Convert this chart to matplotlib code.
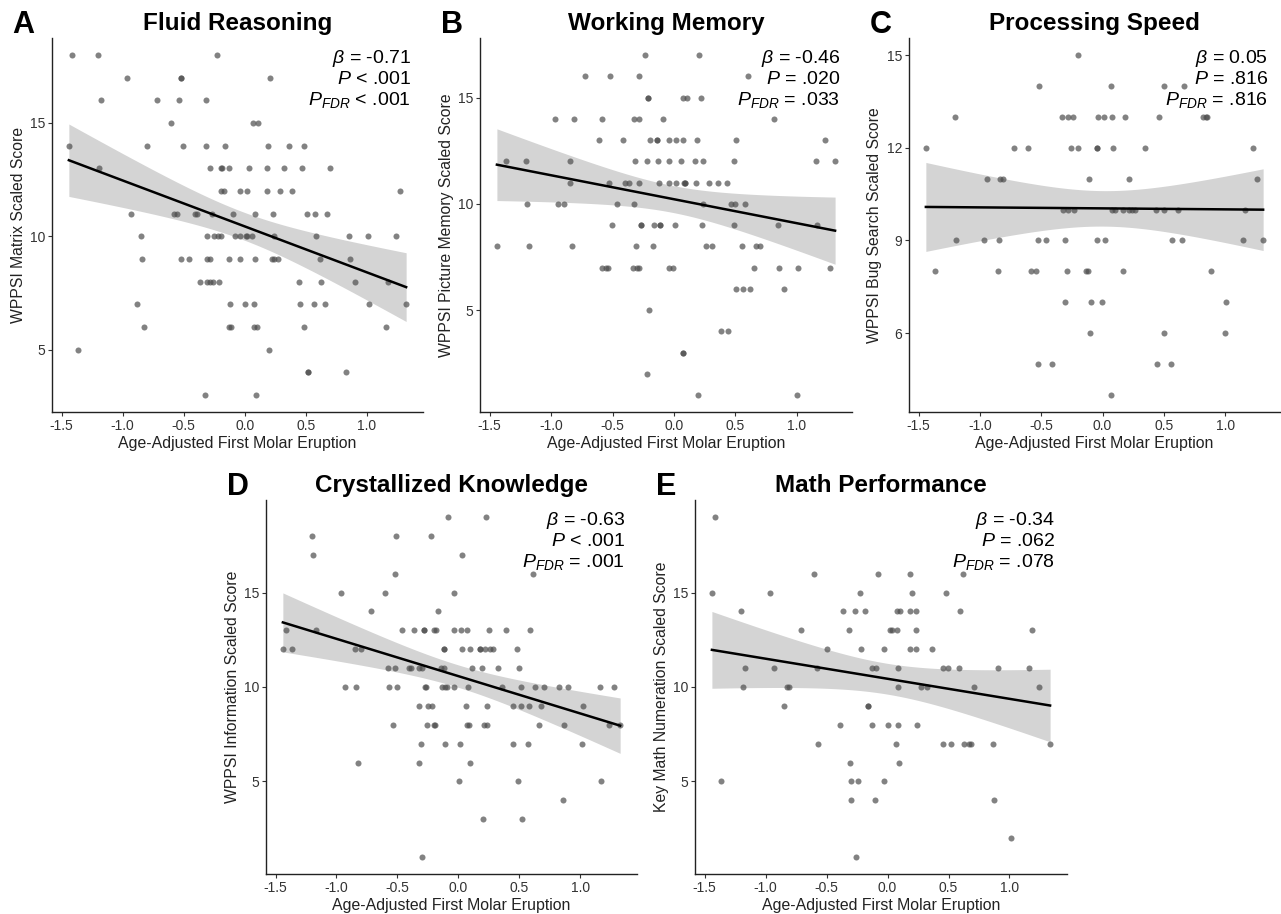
import numpy as np
import matplotlib
matplotlib.use('Agg')
import matplotlib.pyplot as plt
from matplotlib.ticker import FormatStrFormatter

plt.rcParams['font.family'] = ['Liberation Sans', 'DejaVu Sans']
plt.rcParams['axes.unicode_minus'] = False
plt.rcParams['mathtext.fontset'] = 'custom'
plt.rcParams['mathtext.rm'] = 'Liberation Sans'
plt.rcParams['mathtext.it'] = 'Liberation Sans:italic'

# dane: wynik -> lista x (wiek wyrzniecia zeba)
fluid_rows = {
    18: [-1.418, -1.20, -0.231],
    17: [-0.961, -0.525, -0.525, 0.205],
    16: [-1.173, -0.716, -0.541, -0.318],
    15: [-0.607, 0.069, 0.107],
    14: [-1.44, -0.803, -0.503, -0.318, -0.160, 0.194, 0.363, 0.488],
    13: [-1.19, -0.285, -0.198, -0.187, -0.127, 0.031, 0.178, 0.319, 0.472, 0.700],
    12: [-0.193, -0.166, -0.035, 0.020, 0.183, 0.286, 0.390, 1.272],
    11: [-0.934, -0.580, -0.558, -0.405, -0.394, -0.269, -0.100, 0.085, 0.232, 0.510, 0.575, 0.673],
    10: [-0.846, -0.313, -0.253, -0.220, -0.193, -0.084, -0.040, 0.009, 0.020, 0.063, 0.237, 0.581, 0.853, 1.011, 1.234],
    9: [-0.841, -0.525, -0.460, -0.307, -0.285, -0.127, -0.040, 0.085, 0.221, 0.243, 0.270, 0.613, 0.858],
    8: [-0.367, -0.307, -0.285, -0.264, -0.215, 0.444, 0.624, 0.902, 1.169],
    7: [-0.884, -0.117, 0.003, 0.079, 0.450, 0.564, 0.657, 1.016, 1.321],
    6: [-0.825, -0.133, -0.111, 0.079, 0.101, 0.488, 1.158],
    5: [-1.369, 0.199],
    4: [0.515, 0.515, 0.826],
    3: [-0.324, 0.090],
}

memory_rows = {
    17: [-0.234, 0.201],
    16: [-0.723, -0.522, -0.288, 0.603],
    15: [-0.212, -0.212, 0.071, 0.103, 0.217],
    14: [-0.967, -0.810, -0.587, -0.326, -0.288, -0.092, 0.815],
    13: [-0.609, -0.413, -0.196, -0.136, -0.136, -0.043, 0.016, 0.076, 0.185, 0.505, 1.228],
    12: [-1.370, -1.201, -0.848, -0.315, -0.223, -0.130, -0.043, 0.054, 0.168, 0.239, 0.484, 1.152, 1.310],
    11: [-0.842, -0.527, -0.402, -0.364, -0.288, -0.120, -0.043, 0.016, 0.082, 0.092, 0.092, 0.179, 0.283, 0.359, 0.435],
    10: [-1.196, -0.940, -0.891, -0.462, -0.326, 0.234, 0.467, 0.500, 0.576],
    9: [-0.505, -0.266, -0.266, -0.163, -0.114, -0.114, 0.011, 0.228, 0.484, 0.848, 1.163],
    8: [-1.440, -1.179, -0.826, -0.310, -0.168, 0.261, 0.310, 0.554, 0.663, 0.696],
    7: [-0.582, -0.549, -0.533, -0.337, -0.304, -0.283, -0.043, -0.005, 0.647, 0.853, 1.011, 1.266],
    6: [0.505, 0.565, 0.614, 0.891],
    5: [-0.201],
    4: [0.386, 0.440],
    3: [0.071, 0.071],
    2: [-0.223],
    1: [0.196, 1.000],
}

speed_rows = {
    15: [-0.198],
    14: [-0.518, 0.073, 0.501, 0.664],
    13: [-1.202, -0.334, -0.280, -0.242, -0.041, 0.013, 0.078, 0.181, 0.463, 0.816, 0.843, 0.854],
    12: [-1.440, -0.719, -0.611, -0.253, -0.204, -0.047, -0.047, 0.089, 0.349, 1.228],
    11: [-0.941, -0.833, -0.811, -0.112, 0.219, 1.260],
    10: [-0.323, -0.280, -0.231, 0.078, 0.100, 0.170, 0.214, 0.241, 0.262, 0.436, 0.501, 0.615, 1.163],
    9: [-1.191, -0.963, -0.844, -0.529, -0.464, -0.307, -0.047, 0.024, 0.566, 0.647, 1.146, 1.309],
    8: [-1.364, -0.849, -0.584, -0.546, -0.291, -0.133, -0.117, 0.170, 0.886],
    7: [-0.307, -0.095, -0.003, 1.005],
    6: [-0.106, 0.501, 1.000],
    5: [-0.529, -0.410, 0.441, 0.555],
    4: [0.073],
}

knowledge_rows = {
    19: [-0.086, 0.225],
    18: [-1.200, -0.512, -0.228],
    17: [-1.189, 0.034],
    16: [-0.523, 0.612],
    15: [-0.960, -0.605, -0.032],
    14: [-0.714, -0.163],
    13: [-1.418, -1.172, -0.463, -0.365, -0.283, -0.283, -0.201, -0.185, -0.032, 0.023, 0.072, 0.252, 0.394, 0.585],
    12: [-1.440, -1.369, -0.850, -0.801, -0.119, -0.119, 0.028, 0.099, 0.176, 0.176, 0.215, 0.258, 0.285, 0.481],
    11: [-0.578, -0.523, -0.408, -0.392, -0.321, -0.299, -0.146, -0.119, 0.116, 0.198, 0.323, 0.498],
    10: [-0.932, -0.840, -0.572, -0.501, -0.277, -0.266, -0.130, -0.113, -0.097, -0.032, 0.083, 0.361,
         0.514, 0.629, 0.705, 0.825, 0.902, 1.164, 1.278],
    9: [-0.321, -0.245, -0.217, 0.061, 0.236, 0.449, 0.514, 0.580, 0.678, 1.022],
    8: [-0.539, -0.261, -0.201, -0.190, 0.072, 0.088, 0.209, 0.236, 0.662, 0.869, 1.240, 1.328],
    7: [-0.310, -0.108, 0.012, 0.449, 0.569, 1.016],
    6: [-0.823, -0.321, 0.094],
    5: [0.007, 0.492, 1.175],
    4: [0.858],
    3: [0.203, 0.520],
    1: [-0.299],
}

math_rows = {
    19: [-1.418],
    16: [-0.605, -0.081, 0.181, 0.617],
    15: [-1.440, -0.960, -0.228, 0.198, 0.476],
    14: [-1.200, -0.365, -0.266, -0.185, 0.077, 0.099, 0.187, 0.230, 0.591],
    13: [-0.708, -0.315, 0.023, 0.034, 0.077, 0.236, 1.186],
    12: [-0.500, -0.217, -0.032, 0.181, 0.236, 0.367],
    11: [-1.167, -0.932, -0.577, -0.124, -0.097, 0.088, 0.454, 0.498, 0.585, 0.907, 1.164],
    10: [-1.183, -0.823, -0.807, 0.088, 0.274, 0.323, 0.711, 1.246],
    9: [-0.845, -0.157, -0.157],
    8: [-0.392, -0.124, 0.007, 0.083, 0.241],
    7: [-0.567, 0.066, 0.454, 0.520, 0.629, 0.667, 0.683, 0.864, 1.333],
    6: [-0.310, 0.094],
    5: [-1.364, -0.299, -0.245, -0.026],
    4: [-0.299, -0.103, 0.869],
    2: [1.016],
    1: [-0.255],
}

letters = ['A', 'B', 'C', 'D', 'E']
titles = ['Fluid Reasoning', 'Working Memory', 'Processing Speed',
          'Crystallized Knowledge', 'Math Performance']
ylabels = ['WPPSI Matrix Scaled Score', 'WPPSI Picture Memory Scaled Score',
           'WPPSI Bug Search Scaled Score', 'WPPSI Information Scaled Score',
           'Key Math Numeration Scaled Score']
stats = [
    (r'$\beta$ = -0.71', r'$P$ < .001', r'$P_{FDR}$ < .001'),
    (r'$\beta$ = -0.46', r'$P$ = .020', r'$P_{FDR}$ = .033'),
    (r'$\beta$ = 0.05', r'$P$ = .816', r'$P_{FDR}$ = .816'),
    (r'$\beta$ = -0.63', r'$P$ < .001', r'$P_{FDR}$ = .001'),
    (r'$\beta$ = -0.34', r'$P$ = .062', r'$P_{FDR}$ = .078'),
]
yticks = [[5, 10, 15], [5, 10, 15], [6, 9, 12, 15], [5, 10, 15], [5, 10, 15]]
xticks = [-1.5, -1.0, -0.5, 0.0, 0.5, 1.0]
panels = [fluid_rows, memory_rows, speed_rows, knowledge_rows, math_rows]

# polozenie osi w pikselach (lewo, prawo, gora, dol)
W, H = 1281, 914
boxes = [(52, 423, 38, 412), (480, 852, 38, 412), (909, 1280, 38, 412),
         (266, 637, 500, 874), (695, 1067, 500, 874)]


def flat(rows):
    xs, ys = [], []
    for score, xl in rows.items():
        xs += xl
        ys += [score] * len(xl)
    return np.array(xs), np.array(ys, dtype=float)


def fit_band(x, y):
    # prosta regresji + 95% przedzial ufnosci (jak geom_smooth(method='lm'))
    n = len(x)
    b1, b0 = np.polyfit(x, y, 1)
    g = np.linspace(x.min(), x.max(), 100)
    fit = b0 + b1 * g
    s = np.sqrt(np.sum((y - (b0 + b1 * x)) ** 2) / (n - 2))
    se = s * np.sqrt(1 / n + (g - x.mean()) ** 2 / np.sum((x - x.mean()) ** 2))
    return g, fit, fit - 1.98 * se, fit + 1.98 * se


fig = plt.figure(figsize=(W / 100, H / 100), dpi=100)

for i, rows in enumerate(panels):
    l, r, t, b = boxes[i]
    ax = fig.add_axes([l / W, 1 - b / H, (r - l) / W, (b - t) / H])
    x, y = flat(rows)
    g, fit, lo, hi = fit_band(x, y)
    ax.fill_between(g, lo, hi, color='#d4d4d4', lw=0, zorder=1)
    ax.scatter(x, y, s=19, color='#4d4d4d', alpha=0.7, lw=0, zorder=2)
    ax.plot(g, fit, color='black', lw=1.8, zorder=3)

    px = 0.05 * (x.max() - x.min())
    py = 0.05 * (y.max() - y.min())
    ax.set_xlim(x.min() - px, x.max() + px)
    ax.set_ylim(y.min() - py, y.max() + py)
    ax.set_xticks(xticks)
    ax.set_yticks(yticks[i])
    ax.xaxis.set_major_formatter(FormatStrFormatter('%.1f'))
    for sp in ['top', 'right']:
        ax.spines[sp].set_visible(False)
    for sp in ['left', 'bottom']:
        ax.spines[sp].set_linewidth(1.0)
        ax.spines[sp].set_color('#222222')
    ax.tick_params(length=3, width=0.8, color='#333333', labelsize=10,
                   labelcolor='#333333', pad=2)
    ax.set_xlabel('Age-Adjusted First Molar Eruption', fontsize=11.4, color='#222222', labelpad=2)
    ax.set_ylabel(ylabels[i], fontsize=11.3, color='#222222', labelpad=3)
    ax.set_title(titles[i], fontsize=17.5, fontweight='bold', pad=6)
    ax.text(-0.106, 1.035, letters[i], transform=ax.transAxes, fontsize=22,
            fontweight='bold', ha='left', va='center')
    ax.text(0.968, 0.972, '\n'.join(stats[i]), transform=ax.transAxes,
            ha='right', va='top', fontsize=14, linespacing=1.12)

fig.savefig('out.png', dpi=100)
